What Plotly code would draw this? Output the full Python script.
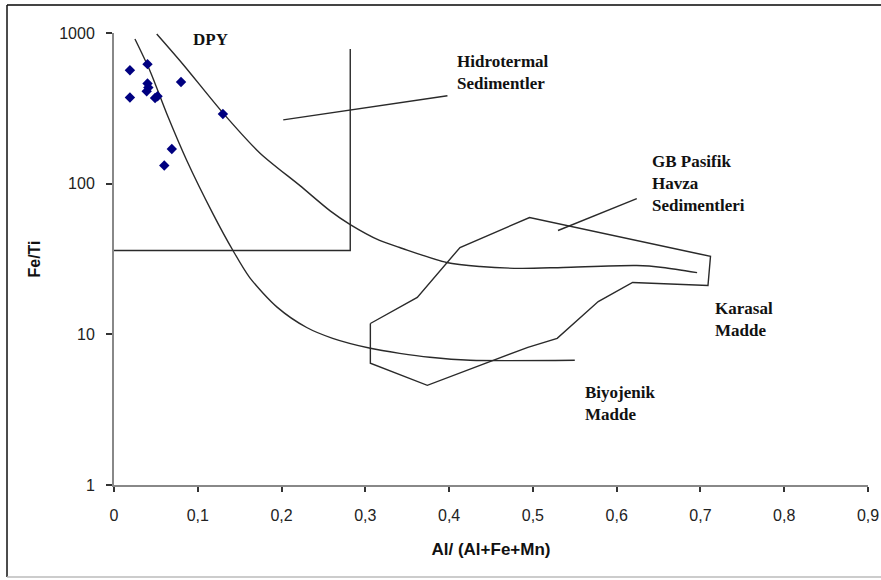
import math
import plotly.graph_objects as go

# ---- data ----
sample_x = [0.019, 0.019, 0.040, 0.040, 0.041, 0.039, 0.049, 0.052, 0.080, 0.130, 0.069, 0.060]
sample_y = [566, 373, 621, 462, 434, 410, 370, 380, 473, 290, 170, 132]

hydro_curve_x = [0.051, 0.082, 0.130, 0.174, 0.222, 0.258, 0.282, 0.317, 0.341, 0.397, 0.437, 0.485, 0.536, 0.624, 0.655, 0.696]
hydro_curve_y = [985, 623, 295, 160, 97, 66, 53.5, 42, 37.7, 30, 28.2, 27.4, 27.8, 28.6, 27.8, 25.7]

bio_curve_x = [0.025, 0.043, 0.063, 0.087, 0.118, 0.142, 0.162, 0.195, 0.230, 0.261, 0.306, 0.341, 0.377, 0.425, 0.550]
bio_curve_y = [912, 560, 291, 142, 63.3, 36, 23.8, 15.1, 11.1, 9.41, 8.08, 7.48, 7.04, 6.73, 6.73]

terr_x = [0.306, 0.362, 0.413, 0.496, 0.712, 0.709, 0.619, 0.578, 0.529, 0.494, 0.374, 0.306, 0.306]
terr_y = [11.8, 17.6, 37.7, 59.6, 32.9, 21.1, 22.1, 16.5, 9.41, 8.2, 4.59, 6.43, 11.8]

dpy_box_x = [0.0, 0.282, 0.282]
dpy_box_y = [36, 36, 784]

hydro_ptr_x = [0.202, 0.398]
hydro_ptr_y = [265, 383]

gb_ptr_x = [0.530, 0.624]
gb_ptr_y = [48.9, 79.6]

x_ticks = [0, 0.1, 0.2, 0.3, 0.4, 0.5, 0.6, 0.7, 0.8, 0.9]
x_tick_text = ["0", "0,1", "0,2", "0,3", "0,4", "0,5", "0,6", "0,7", "0,8", "0,9"]
y_ticks = [1, 10, 100, 1000]
y_tick_text = ["1", "10", "100", "1000"]

labels = [
    ("DPY", 0.1146, 912, "center"),
    ("Hidrotermal<br>Sedimentler", 0.407, 547, "left"),
    ("GB Pasifik<br>Havza<br>Sedimentleri", 0.6396, 100, "left"),
    ("Karasal<br>Madde", 0.7148, 12.6, "left"),
    ("Biyojenik<br>Madde", 0.5597, 3.49, "left"),
]

line_color = "#2a2a2a"

fig = go.Figure()
for lx, ly, shape in [(hydro_curve_x, hydro_curve_y, "spline"), (bio_curve_x, bio_curve_y, "spline"),
                      (terr_x, terr_y, "linear"), (dpy_box_x, dpy_box_y, "linear"),
                      (hydro_ptr_x, hydro_ptr_y, "linear"), (gb_ptr_x, gb_ptr_y, "linear")]:
    fig.add_trace(go.Scatter(x=lx, y=ly, mode="lines", hoverinfo="skip",
                             line=dict(color=line_color, width=1.4, shape=shape, smoothing=0.8)))

fig.add_trace(go.Scatter(x=sample_x, y=sample_y, mode="markers",
                         marker=dict(symbol="diamond", size=8, color="#000080")))

for text, ax_, ay_, anchor in labels:
    fig.add_annotation(x=ax_, y=math.log10(ay_), yref="y", xref="x", text="<b>" + text + "</b>",
                       showarrow=False, xanchor=anchor, yanchor="middle", align="left",
                       font=dict(family="Liberation Serif", size=17, color="#111"))

# page border
fig.add_shape(type="line", xref="paper", yref="paper", x0=-0.1419, x1=1.02, y0=1.0619, y1=1.0619,
              line=dict(color="#444", width=2))
fig.add_shape(type="line", xref="paper", yref="paper", x0=-0.1419, x1=-0.1419, y0=1.0619, y1=-0.2035,
              line=dict(color="#111", width=1.5))
fig.add_shape(type="line", xref="paper", yref="paper", x0=-0.1419, x1=1.02, y0=-0.2035, y1=-0.2035,
              line=dict(color="#bbb", width=1.5))

fig.update_layout(
    width=881, height=580,
    margin=dict(l=114, r=13, t=33, b=95),
    paper_bgcolor="white", plot_bgcolor="white",
    showlegend=False,
    font=dict(family="Liberation Sans", color="#111"),
)
fig.update_xaxes(range=[0, 0.9], tickvals=x_ticks, ticktext=x_tick_text, automargin=False,
                 showgrid=False, zeroline=False, showline=True, linecolor="#888", linewidth=2,
                 ticks="outside", ticklen=5, tickcolor="#333", tickwidth=1.5, ticklabelstandoff=10,
                 tickfont=dict(size=16, family="Liberation Sans", color="#222"),
                 title=dict(text="<b>Al/ (Al+Fe+Mn)</b>", font=dict(size=17, family="Liberation Sans", color="#111"),
                            standoff=20))
fig.update_yaxes(type="log", range=[0, 3], tickvals=y_ticks, ticktext=y_tick_text, automargin=False,
                 showgrid=False, zeroline=False, showline=True, linecolor="#888", linewidth=2,
                 ticks="outside", ticklen=6, tickcolor="#333", tickwidth=1.5, ticklabelstandoff=8,
                 tickfont=dict(size=16, family="Liberation Sans", color="#222"),
                 title=dict(text="<b>Fe/Ti</b>", font=dict(size=16, family="Liberation Sans", color="#111"),
                            standoff=15))

fig.write_html("out.html", config={"displayModeBar": False},
               post_script="document.body.style.margin='0';document.body.style.overflow='hidden';")
